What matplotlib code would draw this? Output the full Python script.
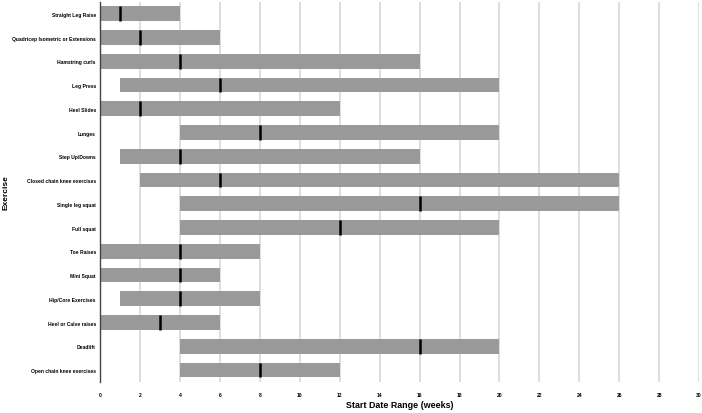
import matplotlib
matplotlib.use("Agg")
import matplotlib.pyplot as plt
import numpy as np

exercises = [
    "Straight Leg Raise", "Quadricep Isometric or Extensions", "Hamstring curls",
    "Leg Press", "Heel Slides", "Lunges", "Step Up/Downs",
    "Closed chain knee exercises", "Single leg squat", "Full squat", "Toe Raises",
    "Mini Squat", "Hip/Core Exercises", "Heel or Calve raises", "Deadlift",
    "Open chain knee exercises",
]
range_start = [0, 0, 0, 1, 0, 4, 1, 2, 4, 4, 0, 0, 1, 0, 4, 4]
range_end = [4, 6, 16, 20, 12, 20, 16, 26, 26, 20, 8, 6, 8, 6, 20, 12]
median_week = [1, 2, 4, 6, 2, 8, 4, 6, 16, 12, 4, 4, 4, 3, 16, 8]
x_ticks = list(range(0, 31, 2))

plt.rcParams['font.family'] = ['Liberation Sans', 'DejaVu Sans']

fig = plt.figure(figsize=(7.02, 4.14), dpi=100)
ax = fig.add_axes([0.1425, 0.075, 0.8535, 0.918])

n = len(exercises)
ypos = np.arange(n)
h = 0.62
starts = np.array(range_start)
ends = np.array(range_end)
ax.barh(ypos, ends - starts, left=starts, height=h, color="#9a9a9a",
        edgecolor="none", zorder=2)
ax.vlines(median_week, ypos - h / 2, ypos + h / 2, color="black",
          linewidth=1.8, zorder=3)

ax.set_xlim(0, 30)
ax.set_ylim(n - 0.5, -0.5)
ax.set_xticks(x_ticks)
ax.set_xticklabels([str(t) for t in x_ticks], fontsize=3.6, fontweight="bold")
ax.set_yticks(ypos)
ax.set_yticklabels(exercises, fontsize=3.6, fontweight="bold")
ax.tick_params(axis="both", length=0)
ax.tick_params(axis="x", pad=7)
ax.tick_params(axis="y", pad=3)
ax.xaxis.grid(True, color="#d4d4d4", linewidth=1.1, zorder=0)
ax.set_axisbelow(True)
for s in ["top", "right", "bottom"]:
    ax.spines[s].set_visible(False)
ax.spines["left"].set_color("#444444")
ax.spines["left"].set_linewidth(1.0)
ax.spines["left"].set_zorder(4)

ax.set_xlabel("Start Date Range (weeks)", fontsize=6.4, fontweight="bold")
ax.xaxis.set_label_coords(0.5, -0.047)
ax.set_ylabel("Exercise", fontsize=6, fontweight="bold")
ax.yaxis.set_label_coords(-0.151, 0.5)

fig.savefig("out.png", dpi=100)
